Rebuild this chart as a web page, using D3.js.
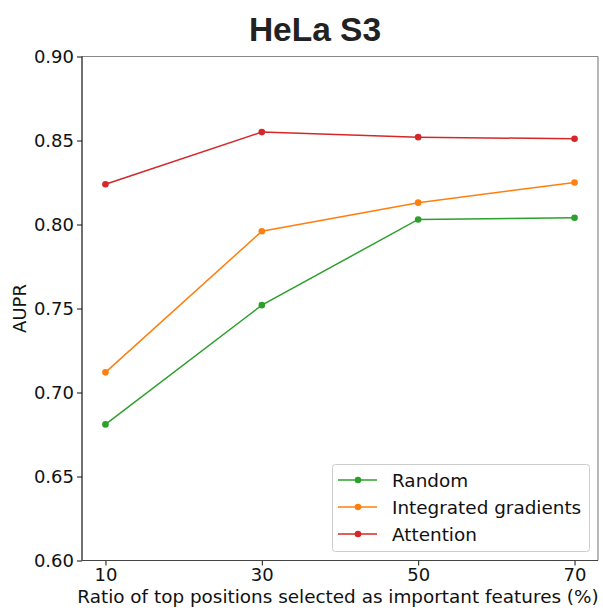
<!DOCTYPE html>
<html>
<head>
<meta charset="utf-8">
<script src="https://cdn.jsdelivr.net/npm/d3@7"></script>
<style>
  body { margin: 0; background: #fff; }
  text { font-family: "DejaVu Sans", sans-serif; }
</style>
</head>
<body>
<div id="chart"></div>
<script>
var ratios = [10, 30, 50, 70];
var xTicks = [10, 30, 50, 70];
var yTicks = [0.60, 0.65, 0.70, 0.75, 0.80, 0.85, 0.90];
var seriesNames = ["Random", "Integrated gradients", "Attention"];
var randomVals = [0.681, 0.752, 0.803, 0.804];
var igVals = [0.712, 0.796, 0.813, 0.825];
var attentionVals = [0.824, 0.855, 0.852, 0.851];
var colors = ["#2ca02c", "#ff7f0e", "#d62728"];

var width = 603, height = 611;
var margin = { top: 56.5, right: 5, bottom: 50.5, left: 82 };
var w = width - margin.left - margin.right;
var h = height - margin.top - margin.bottom;

var svg = d3.select("#chart")
    .append("svg")
    .attr("width", width)
    .attr("height", height);

var g = svg.append("g")
    .attr("transform", "translate(" + margin.left + "," + margin.top + ")");

var x = d3.scaleLinear().domain([7, 73]).range([0, w]);
var y = d3.scaleLinear().domain([0.60, 0.90]).range([h, 0]);

// title
svg.append("text")
    .attr("x", 315)
    .attr("y", 41)
    .attr("text-anchor", "middle")
    .style("font-family", "'Liberation Sans', Arial, sans-serif")
    .style("font-weight", "bold")
    .style("font-size", "33.5px")
    .style("fill", "#222")
    .text("HeLa S3");

// axes
var xAxis = g.append("g")
    .attr("transform", "translate(0," + h + ")")
    .call(d3.axisBottom(x).tickValues(xTicks).tickSize(5).tickSizeOuter(0).tickPadding(3));
var yAxis = g.append("g")
    .call(d3.axisLeft(y).tickValues(yTicks).tickFormat(d3.format(".2f")).tickSize(5).tickSizeOuter(0).tickPadding(3));

[xAxis, yAxis].forEach(function (a) {
    a.select(".domain").remove();
    a.selectAll("text")
        .style("font-family", "'DejaVu Sans', sans-serif")
        .style("font-size", "18px")
        .style("fill", "#111");
    a.selectAll("line").attr("stroke", "#111");
});

// spines
g.append("line").attr("x1", 0).attr("x2", w).attr("y1", 0).attr("y2", 0).attr("stroke", "#888").attr("stroke-width", 1.2);
g.append("line").attr("x1", w).attr("x2", w).attr("y1", 0).attr("y2", h).attr("stroke", "#888").attr("stroke-width", 1.2);
g.append("line").attr("x1", 0).attr("x2", 0).attr("y1", 0).attr("y2", h).attr("stroke", "#111").attr("stroke-width", 1.2);
g.append("line").attr("x1", 0).attr("x2", w).attr("y1", h).attr("y2", h).attr("stroke", "#444").attr("stroke-width", 1.2);

// axis labels
svg.append("text")
    .attr("x", 338)
    .attr("y", 603)
    .attr("text-anchor", "middle")
    .style("font-size", "18.4px")
    .style("fill", "#111")
    .text("Ratio of top positions selected as important features (%)");

svg.append("text")
    .attr("transform", "translate(26," + (margin.top + h / 2) + ") rotate(-90)")
    .attr("text-anchor", "middle")
    .style("font-size", "18px")
    .style("fill", "#111")
    .text("AUPR");

// series
var series = [randomVals, igVals, attentionVals];
var line = d3.line()
    .x(function (d, i) { return x(ratios[i]); })
    .y(function (d) { return y(d); });

series.forEach(function (vals, k) {
    g.append("path")
        .datum(vals)
        .attr("fill", "none")
        .attr("stroke", colors[k])
        .attr("stroke-width", 1.5)
        .attr("d", line);
    g.selectAll(".dot" + k)
        .data(vals)
        .enter()
        .append("circle")
        .attr("cx", function (d, i) { return x(ratios[i]); })
        .attr("cy", function (d) { return y(d); })
        .attr("r", 3.3)
        .style("fill", colors[k]);
});

// legend
var lx = 332, ly = 464;
svg.append("rect")
    .attr("x", lx + 0.5)
    .attr("y", ly + 0.5)
    .attr("width", 257)
    .attr("height", 87)
    .attr("rx", 3)
    .attr("fill", "#fff")
    .attr("fill-opacity", 0.8)
    .attr("stroke", "#ccc");

seriesNames.forEach(function (name, k) {
    var yy = ly + 16 + k * 27;
    svg.append("line")
        .attr("x1", lx + 6).attr("x2", lx + 45)
        .attr("y1", yy).attr("y2", yy)
        .attr("stroke", colors[k])
        .attr("stroke-width", 1.5);
    svg.append("circle")
        .attr("cx", lx + 26).attr("cy", yy)
        .attr("r", 3.3)
        .style("fill", colors[k]);
    svg.append("text")
        .attr("x", lx + 60)
        .attr("y", yy + 7)
        .style("font-size", "18.4px")
        .style("fill", "#111")
        .text(name);
});
</script>
</body>
</html>
